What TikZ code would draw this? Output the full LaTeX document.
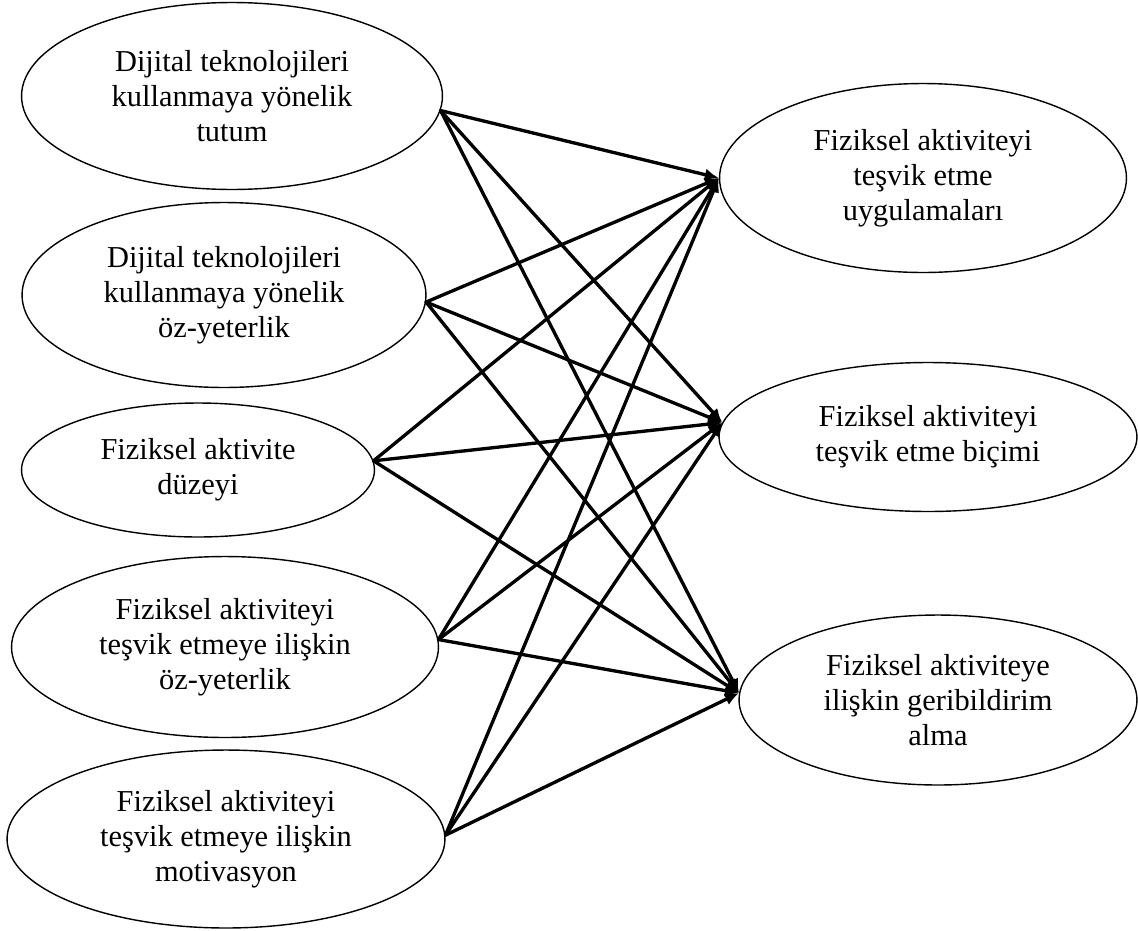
\documentclass[tikz,border=0pt]{standalone}
\usepackage{fontspec}
\setmainfont{Liberation Serif}
\usetikzlibrary{shapes.geometric,arrows.meta}
\tikzset{
  oval/.style={draw, ellipse, line width=.8pt, inner sep=0pt, align=center,
    font=\fontsize{17.3}{20}\selectfont},
  yol/.style={-{Latex[length=8pt,width=7pt]}, line width=1.9pt, line cap=round}
}
\begin{document}
\begin{tikzpicture}[x=.02cm,y=-.02cm]
  \useasboundingbox (0,0) rectangle (1138,930);
  % left side
  \node[oval, minimum width=8.42cm, minimum height=3.74cm] (L1) at (232,96) {Dijital teknolojileri\\kullanmaya yönelik\\tutum};
  \node[oval, minimum width=8.08cm, minimum height=3.70cm] (L2) at (224,295) {Dijital teknolojileri\\kullanmaya yönelik\\öz-yeterlik};
  \node[oval, minimum width=7.06cm, minimum height=2.68cm] (L3) at (198,470) {Fiziksel aktivite\\düzeyi};
  \node[oval, minimum width=8.54cm, minimum height=3.62cm] (L4) at (225,647) {Fiziksel aktiviteyi\\teşvik etmeye ilişkin\\öz-yeterlik};
  \node[oval, minimum width=8.76cm, minimum height=3.56cm] (L5) at (226,839) {Fiziksel aktiviteyi\\teşvik etmeye ilişkin\\motivasyon};
  % right side
  \node[oval, minimum width=8.14cm, minimum height=3.78cm] (R1) at (923,178) {Fiziksel aktiviteyi\\teşvik etme\\uygulamaları};
  \node[oval, minimum width=8.36cm, minimum height=2.98cm] (R2) at (928,437) {Fiziksel aktiviteyi\\teşvik etme biçimi};
  \node[oval, minimum width=7.96cm, minimum height=3.40cm] (R3) at (938,700) {Fiziksel aktiviteye\\ilişkin geribildirim\\alma};
  % paths
  \foreach \s/\a in {L1/-4,L2/-2,L3/3,L4/2,L5/1}
    \foreach \t/\b in {R1/180,R2/176,R3/178}
      \draw[yol] (\s.\a) -- (\t.\b);
\end{tikzpicture}
\end{document}
